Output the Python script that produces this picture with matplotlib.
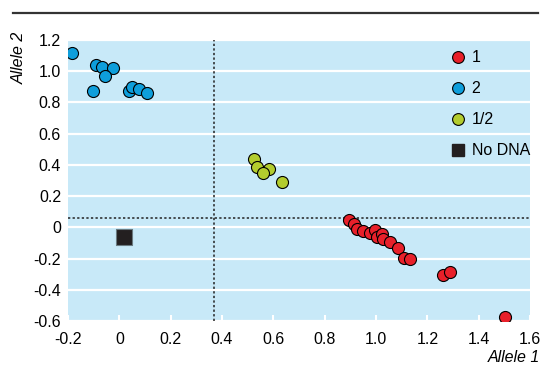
import matplotlib
matplotlib.use("Agg")
import matplotlib.pyplot as plt
from matplotlib.lines import Line2D

plt.rcParams['font.family'] = ['Liberation Sans', 'DejaVu Sans']

# Data
allele1_x = [0.895, 0.915, 0.925, 0.951, 0.977, 0.996, 1.003, 1.022, 1.029, 1.054,
             1.087, 1.109, 1.132, 1.260, 1.287, 1.501]
allele1_y = [0.046, 0.021, -0.012, -0.024, -0.039, -0.018, -0.061, -0.045, -0.076, -0.097,
             -0.135, -0.196, -0.204, -0.306, -0.289, -0.574]
allele2_x = [-0.186, -0.089, -0.069, -0.026, -0.054, -0.103, 0.036, 0.051, 0.077, 0.106]
allele2_y = [1.115, 1.040, 1.029, 1.018, 0.971, 0.875, 0.873, 0.901, 0.884, 0.858]
het_x = [0.526, 0.535, 0.582, 0.561, 0.632]
het_y = [0.435, 0.388, 0.373, 0.345, 0.292]
nodna_x = [0.019]
nodna_y = [-0.065]
threshold_x = 0.367
threshold_y = 0.061
xticks = [-0.2, 0, 0.2, 0.4, 0.6, 0.8, 1.0, 1.2, 1.4, 1.6]
xticklabels = ['-0.2', '0', '0.2', '0.4', '0.6', '0.8', '1.0', '1.2', '1.4', '1.6']
yticks = [-0.6, -0.4, -0.2, 0, 0.2, 0.4, 0.6, 0.8, 1.0, 1.2]
yticklabels = ['-0.6', '-0.4', '-0.2', '0', '0.2', '0.4', '0.6', '0.8', '1.0', '1.2']

RED = '#E8202A'
BLUE = '#0E9EDB'
GREEN = '#B3CC2E'
BLACK = '#231F20'
BG = '#C8E9F8'

fig = plt.figure(figsize=(5.4, 3.68), dpi=100)
ax = fig.add_axes([68/540, 1 - 321/368, (530-68)/540, (321-40)/368])
ax.set_facecolor(BG)
for s in ax.spines.values():
    s.set_visible(False)

ax.set_xlim(-0.2, 1.6)
ax.set_ylim(-0.6, 1.2)
ax.set_xticks(xticks)
ax.set_xticklabels(xticklabels)
ax.set_yticks(yticks)
ax.set_yticklabels(yticklabels)
ax.tick_params(axis='x', direction='in', length=4, width=1.5, color='white', labelsize=11.5, pad=8)
ax.tick_params(axis='y', length=0, labelsize=11.5, pad=5)
ax.yaxis.grid(True, color='white', linewidth=1.6)
ax.set_axisbelow(True)

ax.axvline(threshold_x, color='#222222', linestyle=(0, (1.5, 1.5)), linewidth=1.1, zorder=1.5)
ax.axhline(threshold_y, color='#222222', linestyle=(0, (1.5, 1.5)), linewidth=1.1, zorder=1.5)

ms = 75
ax.scatter(allele1_x, allele1_y, s=ms, c=RED, edgecolors='black', linewidths=0.8, zorder=3)
ax.scatter(allele2_x, allele2_y, s=ms, c=BLUE, edgecolors='black', linewidths=0.8, zorder=3)
ax.scatter(het_x, het_y, s=ms, c=GREEN, edgecolors='black', linewidths=0.8, zorder=3)
ax.scatter(nodna_x, nodna_y, s=125, c=BLACK, marker='s', edgecolors='#6a7a80', linewidths=0.8, zorder=3)

handles = [
    Line2D([], [], marker='o', linestyle='none', markersize=8.5, markerfacecolor=RED, markeredgecolor='black', markeredgewidth=0.8),
    Line2D([], [], marker='o', linestyle='none', markersize=8.5, markerfacecolor=BLUE, markeredgecolor='black', markeredgewidth=0.8),
    Line2D([], [], marker='o', linestyle='none', markersize=8.5, markerfacecolor=GREEN, markeredgecolor='black', markeredgewidth=0.8),
    Line2D([], [], marker='s', linestyle='none', markersize=9, markerfacecolor=BLACK, markeredgecolor=BLACK),
]
leg = ax.legend(handles, ['1', '2', '1/2', 'No DNA'], loc='upper left',
                bbox_to_anchor=(450/540, 1 - 50.5/368), bbox_transform=fig.transFigure,
                frameon=False, fontsize=11.5, labelspacing=1.0, handlelength=1.0,
                handletextpad=0.35, borderpad=0, borderaxespad=0)

fig.add_artist(Line2D([13/540, 538/540], [1 - 12.7/368, 1 - 12.7/368], color='#333333', linewidth=1.6))
fig.text(19/540, 1 - 58/368, 'Allele 2', rotation=90, style='italic', fontsize=11.5,
         ha='center', va='center')
fig.text(540/540, 1 - 357/368, 'Allele 1', style='italic', fontsize=11.5, ha='right', va='center')

fig.savefig('out.png', dpi=100)
